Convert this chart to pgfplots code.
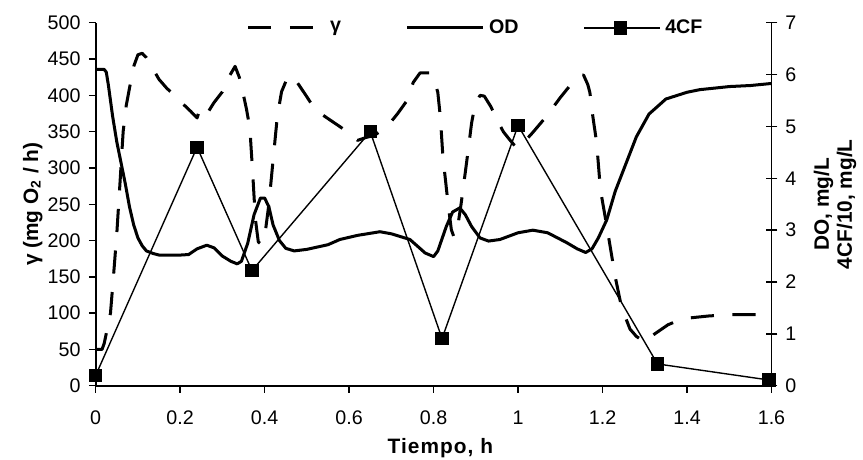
\documentclass[border=0pt]{standalone}
\usepackage{pgfplots}
\pgfplotsset{compat=1.18}
\usepackage{fontspec}
\setmainfont{Liberation Sans}
\def\pxu{0.01518cm}
\tikzset{gammastyle/.style={black, line width=1.3pt, dash pattern=on 10pt off 8pt, line join=round}}
\begin{document}
\begin{tikzpicture}
\pgfplotsset{
  base/.style={
    scale only axis, width=10.26cm, height=5.51cm,
    xmin=0, xmax=1.6,
    /pgf/number format/assume math mode=true,
    tick label style={font=\fontsize{8.5}{10}\selectfont},
    axis line style={line width=0.7pt},
    tick style={black, line width=0.6pt},
    clip=false,
  },
  legend image code/.code={\draw[mark repeat=2,mark phase=2,#1] plot coordinates {(0cm,0cm) (0.55cm,0cm) (1.15cm,0cm)};},
}
\begin{axis}[base,
  ymin=0, ymax=500,
  axis x line*=bottom, axis y line*=left,
  xtick={0,0.2,0.4,0.6,0.8,1,1.2,1.4,1.6},
  ytick={0,50,100,150,200,250,300,350,400,450,500},
  tick align=outside, major tick length=3pt,
  xticklabel style={yshift=-4.5pt},
  xlabel={Tiempo, h},
  every axis x label/.style={at={(axis description cs:0.51,-0.172)}, anchor=center, font=\bfseries\fontsize{9}{11}\selectfont\addfontfeature{LetterSpace=5}},
  ylabel={γ (mg O\textsubscript{2} / h)},
  every axis y label/.style={at={(axis description cs:-0.093,0.5)}, rotate=90, anchor=center, font=\bfseries\fontsize{9}{11}\selectfont},
]
\addplot[gammastyle] coordinates {
(0,50) (0.015,50) (0.02,58) (0.028,80) (0.035,100) (0.042,150) (0.05,210) (0.058,284) (0.065,350) (0.072,385) (0.08,410) (0.09,440) (0.1,456) (0.11,458) (0.12,452) (0.136,436) (0.15,422) (0.168,410) (0.19,398) (0.207,388) (0.225,378) (0.24,369) (0.245,378) (0.255,370) (0.265,376) (0.28,390) (0.3,405) (0.315,425) (0.33,440) (0.34,425) (0.35,400) (0.357,381) (0.365,355) (0.372,290) (0.378,230) (0.385,198) (0.392,195) (0.40,205) (0.41,250) (0.42,311) (0.43,371) (0.44,405) (0.455,426) (0.47,424) (0.5,398) (0.52,380) (0.55,368) (0.578,357) (0.6,348) (0.62,338) (0.64,342) (0.66,345) (0.69,357) (0.715,375) (0.736,392) (0.752,418) (0.768,431) (0.79,431) (0.80,425) (0.81,404) (0.816,370) (0.822,316) (0.834,252) (0.842,215) (0.848,205) (0.856,215) (0.865,250) (0.878,307) (0.89,362) (0.898,387) (0.91,400) (0.92,399) (0.935,385) (0.95,367) (0.965,350) (0.98,339) (0.996,328) (1.01,333) (1.035,349) (1.067,371) (1.1,397) (1.125,415) (1.146,427) (1.155,428) (1.165,415) (1.17,404) (1.177,371) (1.186,335) (1.195,270) (1.21,220) (1.22,185) (1.23,150) (1.245,108) (1.265,78) (1.28,68) (1.30,60) (1.32,70) (1.355,84) (1.38,90) (1.40,93) (1.45,96) (1.5,98) (1.556,98) (1.6,97)
};
\end{axis}
\begin{axis}[base,
  ymin=0, ymax=7,
  axis x line=none, axis y line*=right,
  ytick={0,1,2,3,4,5,6,7},
  tick align=center, major tick length=5pt,
  ylabel={DO, mg/L\\4CF/10, mg/L},
  every axis y label/.style={at={(axis description cs:1.094,0.5)}, rotate=90, anchor=center, align=center, font=\bfseries\fontsize{9}{10}\selectfont},
  legend columns=3,
  legend style={draw=none, fill=none, at={(axis description cs:0.564,0.986)}, anchor=center, font=\bfseries\fontsize{8.5}{10}\selectfont, /tikz/every even column/.append style={column sep=26pt}},
]
\addlegendimage{gammastyle}
\addlegendentry{γ}
\addplot[black, line width=1.3pt, line join=round] coordinates {
(0,6.1) (0.02,6.1) (0.025,6.05) (0.03,5.8) (0.04,5.2) (0.05,4.7) (0.06,4.3) (0.07,3.9) (0.08,3.45) (0.09,3.1) (0.1,2.85) (0.11,2.7) (0.12,2.6) (0.136,2.55) (0.15,2.52) (0.2,2.52) (0.22,2.53) (0.24,2.64) (0.263,2.71) (0.28,2.66) (0.3,2.5) (0.32,2.4) (0.335,2.35) (0.345,2.4) (0.36,2.75) (0.375,3.3) (0.39,3.62) (0.40,3.62) (0.41,3.45) (0.42,3.1) (0.435,2.8) (0.45,2.65) (0.47,2.6) (0.5,2.63) (0.55,2.72) (0.578,2.82) (0.62,2.9) (0.673,2.97) (0.7,2.93) (0.744,2.82) (0.78,2.56) (0.80,2.49) (0.81,2.6) (0.83,3.07) (0.845,3.35) (0.862,3.43) (0.875,3.3) (0.89,3.07) (0.91,2.85) (0.93,2.79) (0.957,2.82) (1.0,2.95) (1.035,3.0) (1.07,2.95) (1.115,2.76) (1.14,2.64) (1.16,2.57) (1.175,2.64) (1.19,2.85) (1.21,3.2) (1.23,3.75) (1.25,4.17) (1.28,4.8) (1.31,5.24) (1.35,5.53) (1.4,5.66) (1.43,5.71) (1.5,5.77) (1.55,5.79) (1.6,5.83)
};
\addlegendentry{OD}
\addplot[black, line width=0.6pt, mark=square*, mark size=2.6pt, mark options={solid}] coordinates {
(0,0.2) (0.24,4.6) (0.37,2.22) (0.65,4.9) (0.82,0.91) (1.0,5.02) (1.33,0.42) (1.594,0.11)
};
\addlegendentry{4CF}
\end{axis}
\pgfresetboundingbox
\path (-95.7*\pxu,-73.3*\pxu) rectangle (767.3*\pxu,385.7*\pxu);
\end{tikzpicture}
\end{document}
